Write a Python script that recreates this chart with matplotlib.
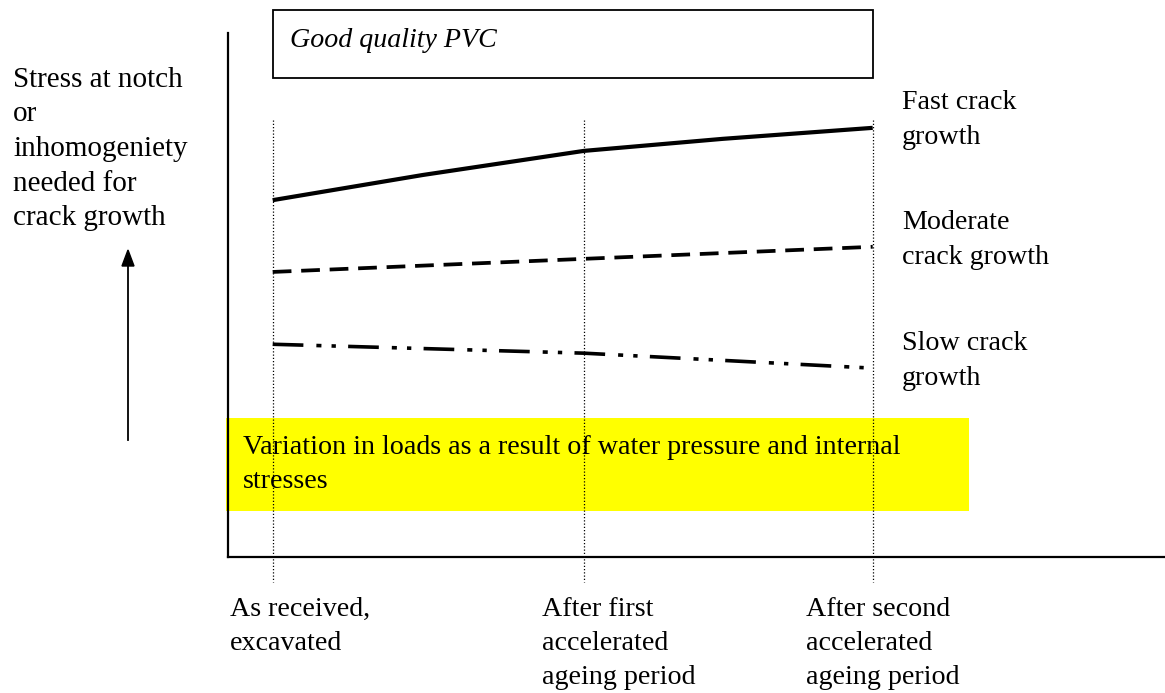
import numpy as np
import matplotlib.pyplot as plt
from matplotlib.patches import Rectangle

# ageing stages along the x axis
stage_pos = [0, 1.037, 2]
stage_labels = ["As received,\nexcavated",
                "After first\naccelerated\nageing period",
                "After second\naccelerated\nageing period"]

# stress needed for crack growth (arbitrary units)
fast_x = [0, 0.5, 1.037, 1.5, 2]
fast = [6.81, 7.29, 7.75, 7.98, 8.19]
moderate = [5.44, 5.69, 5.92]
slow_x = [0, 1.037, 1.98]
slow = [4.06, 3.89, 3.61]
curve_labels = ["Fast crack\ngrowth", "Moderate\ncrack growth", "Slow crack\ngrowth"]

band_low, band_high = 0.88, 2.65
band_text = "Variation in loads as a result of water pressure and internal\nstresses"
box_text = "Good quality PVC"
ylabel = "Stress at notch\nor\ninhomogeniety\nneeded for\ncrack growth"

W, H = 1165, 693
FS = 20.2
plt.rcParams['font.family'] = ['Liberation Serif', 'DejaVu Serif']
fig = plt.figure(figsize=(W / 100, H / 100), dpi=100)

def px(x, y):
    return x / W, 1 - y / H

# axes box: left spine at x=228 px, bottom at y=557 px, top at y=33 px
ax = fig.add_axes([228 / W, 1 - 557 / H, (W - 228) / W, (557 - 33) / H])
ax.set_xlim(-44.7 / 300, (W - 272.7) / 300)
ax.set_ylim(0, 10)
for s in ["top", "right"]:
    ax.spines[s].set_visible(False)
ax.spines["left"].set_linewidth(1.6)
ax.spines["bottom"].set_linewidth(1.6)
ax.set_xticks([])
ax.set_yticks([])

# dotted guide lines at each stage
for s in stage_pos:
    ax.plot([s, s], [8.34, -0.48], color="black", lw=0.9,
            linestyle=(0, (1, 1.6)), clip_on=False)

ax.add_patch(Rectangle((-0.155, band_low), 2.475, band_high - band_low,
                       facecolor="#ffff00", edgecolor="none", zorder=0,
                       clip_on=False))
ax.text(-0.099, 1.76, band_text, fontsize=FS, va="center", ha="left",
        linespacing=1.48)

ax.add_patch(Rectangle((0, 9.14), 2, 1.3, facecolor="white",
                       edgecolor="black", lw=1.3, clip_on=False))
ax.text(0.058, 9.86, box_text, fontsize=FS, style="italic",
        va="center", ha="left")

ax.plot(fast_x, fast, color="black", lw=3.0, solid_capstyle="butt")
ax.plot(stage_pos, moderate, color="black", lw=2.7,
        linestyle=(0, (5.0, 2.6)), dash_capstyle="butt")
ax.plot(slow_x, slow, color="black", lw=2.6,
        linestyle=(0, (8.5, 3.6, 1.4, 2.8, 1.2, 3.4)), dash_capstyle="butt")

# curve labels on the right
for lab, y in zip(curve_labels, [120, 240, 361]):
    fig.text(*px(902, y), lab, fontsize=FS, va="center", ha="left",
             linespacing=1.48)

# y label and arrow
fig.text(*px(13, 149), ylabel, fontsize=21, va="center", ha="left",
         linespacing=1.43)
fig.add_artist(plt.Line2D([128 / W, 128 / W], [1 - 440 / H, 1 - 262 / H],
                          color="black", lw=1.3))
fig.patches.append(plt.Polygon([px(128, 250), px(122, 266), px(134, 266)],
                               closed=True, color="black",
                               transform=fig.transFigure, figure=fig))

# stage labels under the axis
for lab, x in zip(stage_labels, [230, 542, 806]):
    fig.text(*px(x, 597), lab, fontsize=FS, va="top", ha="left",
             linespacing=1.48)

fig.savefig("out.png", dpi=100)
